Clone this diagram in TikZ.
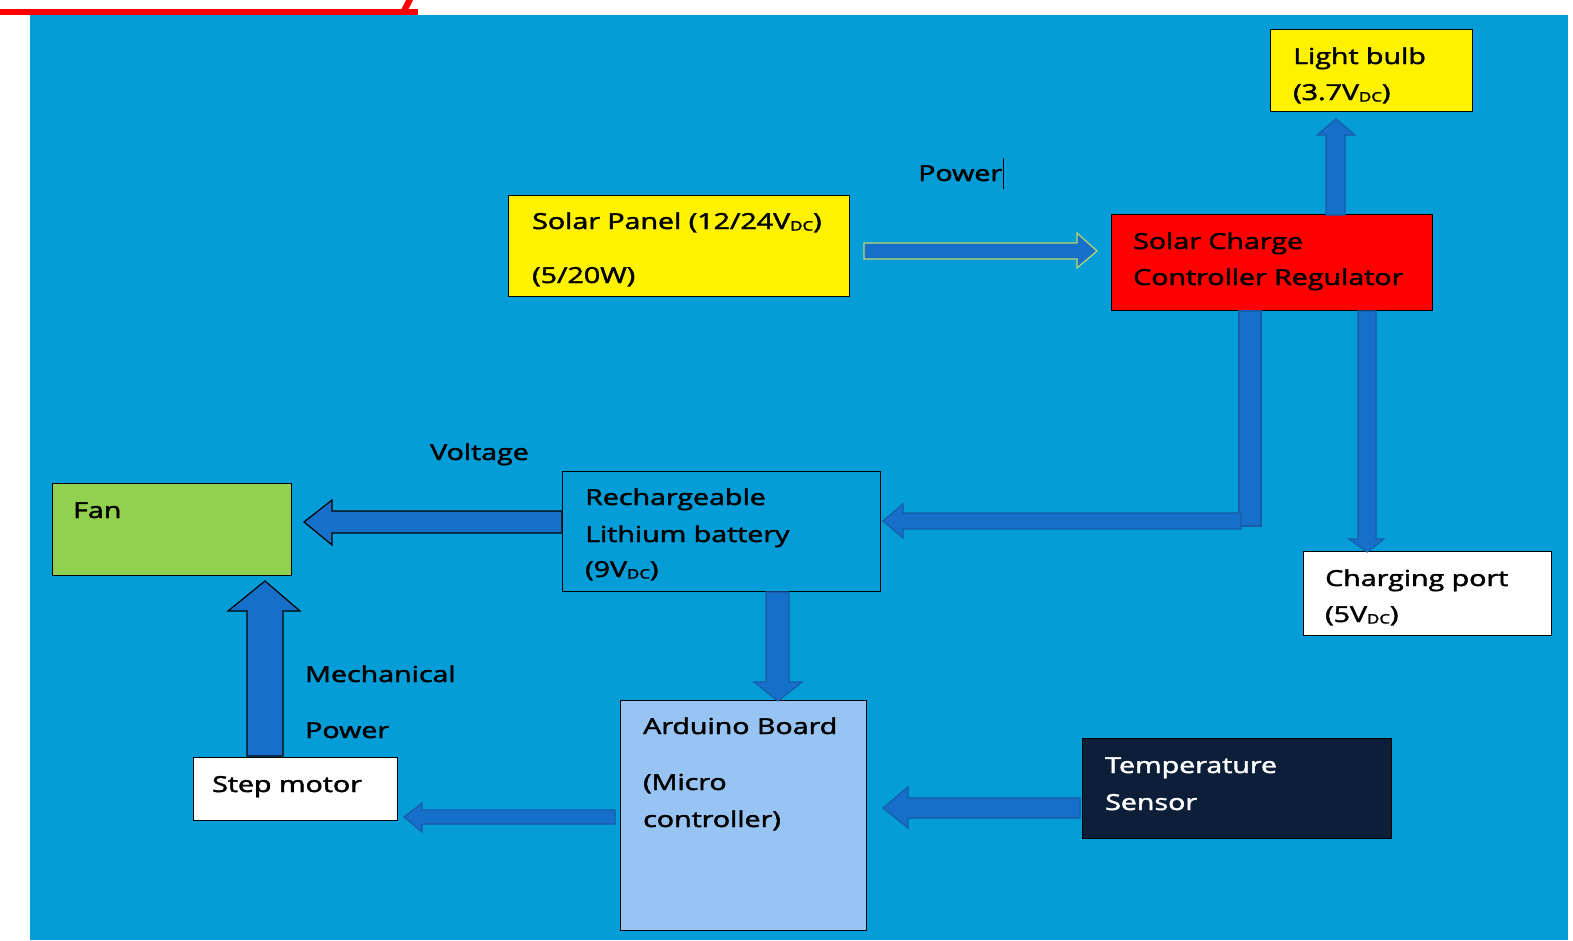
\documentclass[tikz,border=0pt]{standalone}
\usepackage{fontspec}
\setmainfont{Open Sans}[FakeBold=1.8]
\definecolor{bgblue}{RGB}{4,157,216}
\definecolor{arrfill}{RGB}{22,112,202}
\definecolor{arredge}{RGB}{24,92,170}
\definecolor{pwredge}{RGB}{185,215,110}
\definecolor{fangreen}{RGB}{146,208,80}
\definecolor{ardblue}{RGB}{152,196,244}
\definecolor{navy}{RGB}{12,30,56}
\newcommand{\T}[1]{\scalebox{1.3}[1]{#1}}
\newcommand{\DC}{\raisebox{-1.5pt}{\fontsize{13}{13}\selectfont DC}}
\tikzset{
  box/.style={draw=black, line width=1.4pt, anchor=north west, inner sep=0pt},
  lbl/.style={anchor=base west, inner sep=0pt, font=\fontsize{22}{26}\selectfont},
  blk/.style={fill=arrfill, draw=arredge, line width=1.2pt, line join=miter},
  blkb/.style={fill=arrfill, draw=black, line width=1.2pt},
}
\begin{document}
\begin{tikzpicture}[x=1pt,y=-1pt]
\useasboundingbox (0,0) rectangle (1573,940);
% background
\fill[bgblue] (30,15) rectangle (1568,940);
% red header remnant
\fill[red] (0,9) rectangle (418,15);
\fill[red] (406,0) -- (413,0) -- (408,10) -- (401,10) -- cycle;

% boxes
\node[box, fill=yellow, minimum width=341pt, minimum height=101pt] (sp) at (508,195) {};
\node[box, fill=red, minimum width=321pt, minimum height=96pt] (scc) at (1111,214) {};
\node[box, fill=yellow, minimum width=202pt, minimum height=82pt] (lb) at (1270,29) {};
\node[box, fill=white, minimum width=248pt, minimum height=84pt] (cp) at (1303,551) {};
\node[box, fill=bgblue, minimum width=318pt, minimum height=120pt] (bat) at (562,471) {};
\node[box, fill=fangreen, minimum width=239pt, minimum height=92pt] (fan) at (52,483) {};
\node[box, fill=white, minimum width=204pt, minimum height=63pt] (sm) at (193,757) {};
\node[box, fill=ardblue, minimum width=246pt, minimum height=230pt] (ard) at (620,700) {};
\node[box, fill=navy, minimum width=309pt, minimum height=100pt] (ts) at (1082,738) {};

% texts
\node[lbl] (t1) at (532,229) {\T{Solar Panel (12/24V\DC)}};
\node[lbl] (t2) at (532,283) {\T{(5/20W)}};
\node[lbl] (pw) at (918,181) {\T{Power}};
\draw[line width=1pt] (1003,158) -- (1003,189);
\node[lbl] (t3) at (1133,249) {\T{Solar Charge}};
\node[lbl] (t4) at (1133,285) {\T{Controller Regulator}};
\node[lbl] (t5) at (1293,64) {\T{Light bulb}};
\node[lbl] (t6) at (1293,100) {\T{(3.7V\DC)}};
\node[lbl] (t7) at (1325,586) {\T{Charging port}};
\node[lbl] (t8) at (1325,622) {\T{(5V\DC)}};
\node[lbl] (t9) at (585,505) {\T{Rechargeable}};
\node[lbl] (t10) at (585,542) {\T{Lithium battery}};
\node[lbl] (t11) at (585,577) {\T{(9V\DC)}};
\node[lbl] (vo) at (430,460) {\T{Voltage}};
\node[lbl] (t12) at (73,518) {\T{Fan}};
\node[lbl] (me) at (305,682) {\T{Mechanical}};
\node[lbl] (mp) at (305,738) {\T{Power}};
\node[lbl] (t13) at (212,792) {\T{Step motor}};
\node[lbl] (t14) at (643,734) {\T{Arduino Board}};
\node[lbl] (t15) at (643,790) {\T{(Micro}};
\node[lbl] (t16) at (643,827) {\T{controller)}};
\node[lbl, text=white] (t17) at (1105,773) {\T{Temperature}};
\node[lbl, text=white] (t18) at (1105,810) {\T{Sensor}};

% block arrows
% solar panel -> charge controller
\draw[blk, draw=pwredge] (864,243) -- (1077,243) -- (1077,233) -- (1097,251) -- (1077,268) -- (1077,259) -- (864,259) -- cycle;
% controller -> light bulb
\draw[blk] (1326,215) -- (1326,135) -- (1317,135) -- (1336,119) -- (1355,135) -- (1345,135) -- (1345,215) -- cycle;
% controller -> charging port
\draw[blk] (1358,311) -- (1358,539) -- (1349,539) -- (1367,552) -- (1384,539) -- (1376,539) -- (1376,311) -- cycle;
% controller -> battery (L shape)
\draw[blk] (1239,311) rectangle (1261,526);
\draw[blk] (1241,513) -- (903,513) -- (903,504) -- (883,521) -- (903,538) -- (903,529) -- (1241,529) -- cycle;
% battery -> fan
\draw[blkb] (562,511) -- (332,511) -- (332,500) -- (304,522) -- (332,545) -- (332,533) -- (562,533) -- cycle;
% battery -> arduino
\draw[blk] (766,592) -- (766,682) -- (754,682) -- (778,701) -- (802,682) -- (789,682) -- (789,592) -- cycle;
% step motor -> fan
\draw[blkb] (247,756) -- (247,611) -- (228,611) -- (265,581) -- (300,611) -- (283,611) -- (283,756) -- cycle;
% arduino -> step motor
\draw[blk] (615,810) -- (422,810) -- (422,803) -- (404,817) -- (422,832) -- (422,824) -- (615,824) -- cycle;
% temperature sensor -> arduino
\draw[blk] (1080,798) -- (908,798) -- (908,787) -- (883,808) -- (908,828) -- (908,818) -- (1080,818) -- cycle;
\end{tikzpicture}
\end{document}
